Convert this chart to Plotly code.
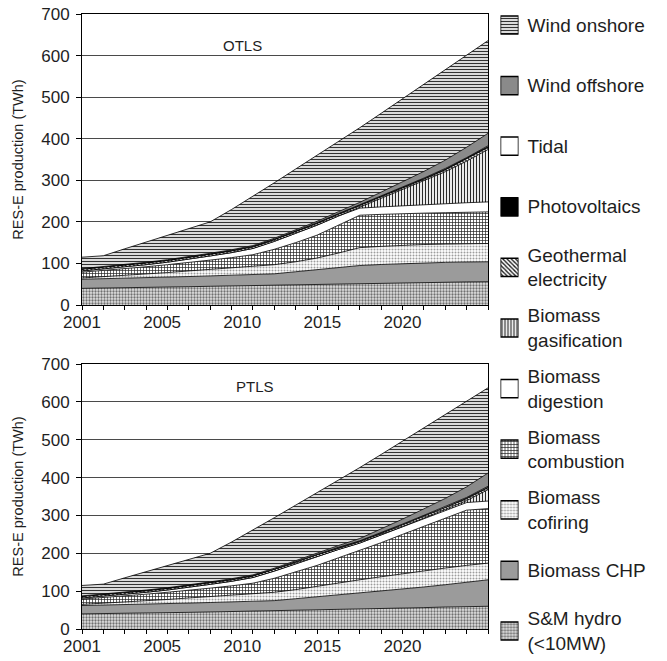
import plotly.graph_objects as go

# ---------------- data ----------------
steps = list(range(20))                      # model periods on the category axis
x_tick_labels = ['2001', '2005', '2010', '2015', '2020']

series_names = ['S&M hydro<br>(&lt;10MW)', 'Biomass CHP', 'Biomass<br>cofiring',
                'Biomass<br>combustion', 'Biomass<br>digestion', 'Biomass<br>gasification',
                'Geothermal<br>electricity', 'Photovoltaics', 'Tidal', 'Wind offshore',
                'Wind onshore']

# OTLS scenario (TWh)
otls_hydro = [40, 40.5, 41, 42, 43, 44, 45, 46, 47, 48, 49, 50, 51, 52, 53, 54, 54.5, 55, 55.5, 56]
otls_chp = [22, 22.5, 23, 23.5, 24, 24.5, 25, 25.5, 26, 27, 31, 35, 39, 43, 44.5, 45.5, 46.5, 47.5, 48, 48]
otls_cofiring = [3, 5, 7, 9, 11, 13.5, 16, 18, 20, 22, 24, 28, 35, 43, 43.5, 44.5, 44.5, 44, 44, 44]
otls_combustion = [14, 15, 16, 17.5, 19, 20, 22, 24.5, 28, 37, 46, 55, 67, 78, 77, 76, 75.5, 75.5, 75.5, 76]
otls_digestion = [3, 3.5, 4, 5, 6, 8, 10, 12, 15, 19, 22, 24, 22, 17, 18, 19, 20, 21.5, 23, 24]
otls_gasification = [0, 0, 0, 0, 0, 0, 0, 0, 0, 0, 0, 0, 0, 2, 20, 38, 57, 77, 100, 126]
otls_geothermal = [4, 4, 4, 4, 4, 4, 4, 4, 4, 4, 4, 4, 4, 4, 4, 4, 4.5, 4.5, 5, 5]
otls_pv = [1, 1, 1, 1, 1, 1, 1, 1, 1, 1, 1.2, 1.3, 1.4, 1.5, 1.6, 1.7, 1.8, 1.9, 2, 2]
otls_tidal = [0, 0, 0, 0, 0, 0, 0, 0, 0, 0, 0.5, 0.5, 0.5, 0.5, 1, 1, 1, 1.5, 1.5, 2]
otls_offshore = [0.5, 0.5, 0.7, 0.8, 1, 1.2, 1.5, 1.8, 2, 2.5, 3, 3.5, 4.5, 6, 9, 12, 16, 20, 25, 30]
otls_onshore = [27.5, 26.5, 38.5, 48.5, 58, 66.5, 75.5, 97, 118.5, 133.5, 146.5, 158.5, 168.5, 179.5, 189.5, 200.5, 210, 218, 221.5, 223]

# PTLS scenario (TWh)
ptls_hydro = [40, 40.5, 41, 42, 43, 44, 45, 46, 47, 48, 49, 50, 51, 52, 53, 55, 56.5, 58, 59, 60]
ptls_chp = [22, 22.5, 23, 23.5, 24, 24.5, 25, 25.5, 26, 27, 31, 35, 39, 43, 47, 50.5, 54.5, 59, 65, 70]
ptls_cofiring = [3, 5, 7, 9, 11, 13.5, 16, 18, 20, 22, 24, 28, 32, 35, 38, 40.5, 43, 44, 44, 44]
ptls_combustion = [14, 15, 16, 17.5, 19, 20, 22, 24.5, 28, 37, 46, 55, 66, 77, 90, 104, 118, 132, 146, 144]
ptls_digestion = [3, 3.5, 4, 5, 6, 8, 10, 12, 15, 19, 22, 24, 22, 20, 20, 20, 20, 20, 20, 20]
ptls_gasification = [0, 0, 0, 0, 0, 0, 0, 0, 0, 0, 0, 0, 0, 0, 0, 0.5, 1, 2, 5, 30]
ptls_geothermal = [4, 4, 4, 4, 4, 4, 4, 4, 4, 4, 4, 4, 4, 4, 4, 4, 4.5, 4.5, 5, 5]
ptls_pv = [1, 1, 1, 1, 1, 1, 1, 1, 1, 1, 1.2, 1.3, 1.4, 1.5, 1.6, 1.7, 1.8, 1.9, 2, 2]
ptls_tidal = [0, 0, 0, 0, 0, 0, 0, 0, 0, 0, 0.5, 0.5, 0.5, 0.5, 1, 1, 1, 1.5, 1.5, 2]
ptls_offshore = [0.5, 0.5, 0.7, 0.8, 1, 1.2, 1.5, 1.8, 2, 2.5, 3, 3.5, 4.5, 6, 9, 13, 17, 22, 28, 35]
ptls_onshore = [27.5, 26.5, 38.5, 48.5, 58, 66.5, 75.5, 97, 118.5, 133.5, 146.5, 158.5, 172.5, 187.5, 197.5, 206, 214, 221.5, 225.5, 225]

otls = [otls_hydro, otls_chp, otls_cofiring, otls_combustion, otls_digestion, otls_gasification,
        otls_geothermal, otls_pv, otls_tidal, otls_offshore, otls_onshore]
ptls = [ptls_hydro, ptls_chp, ptls_cofiring, ptls_combustion, ptls_digestion, ptls_gasification,
        ptls_geothermal, ptls_pv, ptls_tidal, ptls_offshore, ptls_onshore]

# ---------------- styles ----------------
styles = [
    dict(shape='.', fg='#707070', bg='#e2e2e2', size=3, sol=0.45),   # hydro
    dict(shape='', fg='#999999', bg='#9b9b9b', size=3, sol=0.3),     # CHP
    dict(shape='.', fg='#9c9c9c', bg='#ffffff', size=3, sol=0.35),   # cofiring
    dict(shape='+', fg='#1e1e1e', bg='#ffffff', size=3, sol=0.4),    # combustion
    dict(shape='', fg='#ffffff', bg='#ffffff', size=3, sol=0.3),     # digestion
    dict(shape='|', fg='#2a2a2a', bg='#ffffff', size=3, sol=0.4),    # gasification
    dict(shape='\\', fg='#1e1e1e', bg='#ffffff', size=3, sol=0.45),  # geothermal
    dict(shape='', fg='#000000', bg='#000000', size=3, sol=0.3),     # PV
    dict(shape='', fg='#ffffff', bg='#ffffff', size=3, sol=0.3),     # tidal
    dict(shape='', fg='#8a8a8a', bg='#8a8a8a', size=3, sol=0.3),     # offshore
    dict(shape='-', fg='#333333', bg='#ffffff', size=3, sol=0.45),   # onshore
]

FONT = 'Liberation Sans, Arial, sans-serif'
TXT = '#1e1e1e'

fig = go.Figure()

for vals_list, xa, ya, grp in [(otls, 'x', 'y', 'otls'), (ptls, 'x2', 'y2', 'ptls')]:
    for name, vals, st in zip(series_names, vals_list, styles):
        kw = dict(x=steps, y=vals, name=name, mode='lines', stackgroup=grp,
                  line=dict(color='black', width=0.8), fillcolor=st['bg'],
                  xaxis=xa, yaxis=ya, showlegend=False, hoverinfo='skip')
        if st['shape']:
            kw['fillpattern'] = dict(shape=st['shape'], fgcolor=st['fg'], bgcolor=st['bg'],
                                     size=st['size'], solidity=st['sol'], fillmode='replace')
        fig.add_trace(go.Scatter(**kw))

# legend swatches: one small bar per series on an auxiliary axis
legend_swatch_len = [1]
for name, st in zip(series_names, styles):
    marker = dict(color=st['bg'], line=dict(color='black', width=1.5))
    if st['shape']:
        marker['pattern'] = dict(shape=st['shape'], fgcolor=st['fg'], bgcolor=st['bg'],
                                 size=st['size'], solidity=st['sol'], fillmode='replace')
    fig.add_trace(go.Bar(x=legend_swatch_len, y=[name], orientation='h', width=0.3,
                         xaxis='x3', yaxis='y3', showlegend=False, hoverinfo='skip',
                         marker=marker))

# page body margin is removed by the post script, so figure px == screen px
OFF = 0
W, H = 667, 661
ml, mr, mt, mb = 82, 3, 2, 2
pw, ph = W - ml - mr, H - mt - mb

def xd(sx):
    return (sx - OFF - ml) / pw

def yd(sy):
    return (H - mb - (sy - OFF)) / ph

label_pos = [0, 3.75, 7.5, 11.25, 15]

def xaxis_def(anchor):
    return dict(domain=[0, xd(488)], range=[0, 19], anchor=anchor, automargin=False,
                showgrid=False, zeroline=False, showline=True, linecolor='black',
                linewidth=1, mirror=True, tickmode='array', tickvals=label_pos,
                ticktext=x_tick_labels, ticks='', ticklabelstandoff=2,
                ticklabeloverflow='allow', fixedrange=True,
                tickfont=dict(size=17, color=TXT, family=FONT),
                minor=dict(tickmode='linear', tick0=0, dtick=1, ticks='outside',
                           ticklen=4, tickcolor='black', tickwidth=1, showgrid=False))

def yaxis_def(anchor, dom):
    return dict(domain=dom, range=[0, 700], dtick=100, anchor=anchor, automargin=False,
                showgrid=True, gridcolor='#4a4a4a', gridwidth=1, zeroline=False,
                showline=True, linecolor='black', linewidth=1, mirror=True,
                ticks='outside', ticklen=5, tickcolor='black', ticklabelstandoff=3,
                ticklabeloverflow='allow', fixedrange=True,
                tickfont=dict(size=17, color=TXT, family=FONT),
                title=dict(text='RES-E production (TWh)', standoff=14,
                           font=dict(size=14.5, color=TXT, family=FONT)))

leg_top, leg_bot, leg_step = 25, 631, 60.6   # screen px of first/last swatch centres

fig.update_layout(
    width=W, height=H, margin=dict(l=ml, r=mr, t=mt, b=mb, autoexpand=False),
    paper_bgcolor='white', plot_bgcolor='white',
    font=dict(family=FONT, color=TXT),
    xaxis=xaxis_def('y'),
    yaxis=yaxis_def('x', [yd(305), yd(14)]),
    xaxis2=xaxis_def('y2'),
    yaxis2=yaxis_def('x2', [yd(629), yd(364)]),
    xaxis3=dict(domain=[xd(500.5), xd(518.5)], range=[0, 1], anchor='y3',
                visible=False, automargin=False, fixedrange=True),
    yaxis3=dict(domain=[0, 1], anchor='x3', type='category', side='right',
                categoryorder='array', categoryarray=series_names, automargin=False,
                range=[-(H - mb - (leg_bot - OFF)) / leg_step,
                       10 + ((leg_top - OFF) - mt) / leg_step],
                showgrid=False, zeroline=False, showline=False, ticks='',
                ticklabelstandoff=8, ticklabeloverflow='allow', fixedrange=True,
                tickfont=dict(size=19, color=TXT, family=FONT)),
    barmode='overlay',
    showlegend=False,
    hovermode=False,
    annotations=[
        dict(text='OTLS', x=7.5, y=625, xref='x', yref='y', showarrow=False,
             font=dict(size=15, color=TXT, family=FONT)),
        dict(text='PTLS', x=8.1, y=640, xref='x2', yref='y2', showarrow=False,
             font=dict(size=15, color=TXT, family=FONT)),
    ],
)

fig.write_html('out.html', config={'displayModeBar': False, 'staticPlot': True},
               post_script="document.body.style.margin='0';document.body.style.overflow='hidden';")
